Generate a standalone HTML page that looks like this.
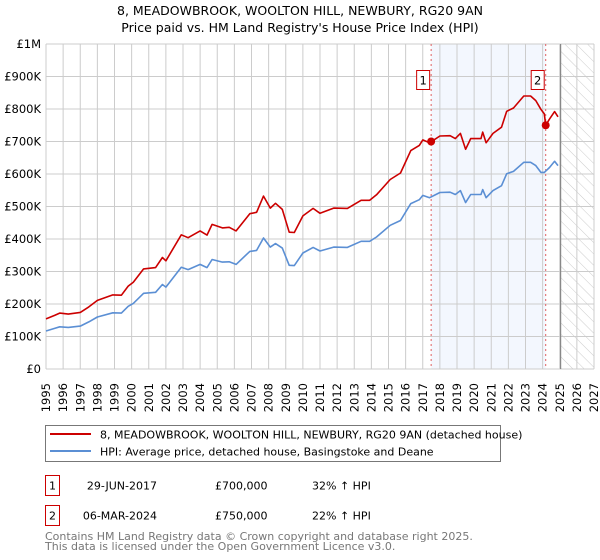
<!DOCTYPE html>
<html><head><meta charset="utf-8"><style>
body{margin:0;background:#fff;}
svg{display:block;font-family:"DejaVu Sans","Liberation Sans",sans-serif;}
</style></head><body>
<svg id="chart" width="600" height="560" viewBox="0 0 600 560">
<defs>
<pattern id="hatch" width="8" height="8" patternUnits="userSpaceOnUse" patternTransform="rotate(-45)">
<line x1="0" y1="0" x2="0" y2="8" stroke="#ccc" stroke-width="1"/>
</pattern>
</defs>
<text x="300" y="15" text-anchor="middle" font-size="12.5">8, MEADOWBROOK, WOOLTON HILL, NEWBURY, RG20 9AN</text>
<text x="300" y="32" text-anchor="middle" font-size="12.5">Price paid vs. HM Land Registry's House Price Index (HPI)</text>
<g id="bg"></g><g id="grid"></g><g id="series"></g><g id="axes"></g>
<g>
<rect x="45.5" y="425.5" width="455" height="36" fill="#fff" stroke="#777"/>
<line x1="50" y1="434" x2="91" y2="434" stroke="#cc0000" stroke-width="2"/>
<text x="100" y="438.5" font-size="11">8, MEADOWBROOK, WOOLTON HILL, NEWBURY, RG20 9AN (detached house)</text>
<line x1="50" y1="451" x2="91" y2="451" stroke="#5b8fd4" stroke-width="2"/>
<text x="100" y="455.5" font-size="11">HPI: Average price, detached house, Basingstoke and Deane</text>
</g>
<g font-size="11">
<rect x="45.5" y="475.5" width="14" height="20" fill="#fff" stroke="#cc0000"/>
<text x="52.5" y="489.5" text-anchor="middle">1</text>
<text x="157" y="489.5" text-anchor="end">29-JUN-2017</text>
<text x="215" y="489.5">£700,000</text>
<text x="312" y="489.5">32% ↑ HPI</text>
<rect x="45.5" y="505.5" width="14" height="20" fill="#fff" stroke="#cc0000"/>
<text x="52.5" y="519.5" text-anchor="middle">2</text>
<text x="157" y="519.5" text-anchor="end">06-MAR-2024</text>
<text x="215" y="519.5">£750,000</text>
<text x="312" y="519.5">22% ↑ HPI</text>
</g>
<text x="45" y="540" font-size="11" fill="#777">Contains HM Land Registry data © Crown copyright and database right 2025.</text>
<text x="45" y="550" font-size="11" fill="#777">This data is licensed under the Open Government Licence v3.0.</text>
</svg>
<script>
const hpiYears=[1995.0,1995.5,1995.8,1996.3,1997.0,1997.5,1998.0,1998.9,1999.4,1999.8,2000.1,2000.7,2001.4,2001.8,2002.0,2002.9,2003.3,2004.0,2004.4,2004.7,2005.3,2005.7,2006.1,2006.9,2007.3,2007.7,2008.1,2008.4,2008.8,2009.2,2009.5,2010.0,2010.6,2011.0,2011.8,2012.6,2013.4,2013.9,2014.3,2015.1,2015.7,2016.3,2016.8,2017.0,2017.4,2018.0,2018.6,2018.9,2019.2,2019.5,2019.8,2020.4,2020.5,2020.7,2021.1,2021.6,2021.9,2022.3,2022.9,2023.3,2023.6,2023.9,2024.1,2024.4,2024.7,2024.9];
const hpiValues=[117,125,130,128,132,145,160,173,172,193,202,233,236,260,252,313,306,322,312,337,329,330,322,362,365,403,375,386,372,319,318,357,374,363,375,374,393,393,406,442,457,509,521,534,527,543,544,537,549,512,537,537,552,527,549,564,601,608,636,636,626,605,605,620,639,626];
const priceYears=[1995.0,1995.5,1995.8,1996.3,1997.0,1997.5,1998.0,1998.9,1999.4,1999.8,2000.1,2000.7,2001.4,2001.8,2002.0,2002.9,2003.3,2004.0,2004.4,2004.7,2005.3,2005.7,2006.1,2006.9,2007.3,2007.7,2008.1,2008.4,2008.8,2009.2,2009.5,2010.0,2010.6,2011.0,2011.8,2012.6,2013.4,2013.9,2014.3,2015.1,2015.7,2016.3,2016.8,2017.0,2017.4,2018.0,2018.6,2018.9,2019.2,2019.5,2019.8,2020.4,2020.5,2020.7,2021.1,2021.6,2021.9,2022.3,2022.9,2023.3,2023.6,2023.9,2024.1,2024.18,2024.4,2024.7,2024.9];
const priceValues=[154,165,172,169,174,191,211,228,227,255,267,308,312,343,333,413,404,425,412,445,434,436,425,478,482,532,495,510,491,421,420,471,494,479,495,494,519,519,536,583,603,672,688,705,696,717,718,709,725,676,709,709,729,696,725,744,793,803,840,840,826,799,785,750,769,792,776];
const saleYears=[2017.49,2024.18];
const saleValues=[700,750];
const saleLabels=["1","2"];
const yTicks=[0,100,200,300,400,500,600,700,800,900,1000];
const yTickLabels=["£0","£100K","£200K","£300K","£400K","£500K","£600K","£700K","£800K","£900K","£1M"];
const xTicks=[1995,1996,1997,1998,1999,2000,2001,2002,2003,2004,2005,2006,2007,2008,2009,2010,2011,2012,2013,2014,2015,2016,2017,2018,2019,2020,2021,2022,2023,2024,2025,2026,2027];
const dataEndYear=2025.05;

const X0=46,X1=594,Y0=369,Y1=44;
const xs=v=>X0+(v-1995)/(2027-1995)*(X1-X0);
const ys=v=>Y0-v/1000*(Y0-Y1);
const NS="http://www.w3.org/2000/svg";
function mk(tag,attrs,parent){const e=document.createElementNS(NS,tag);for(const k in attrs)e.setAttribute(k,attrs[k]);parent.appendChild(e);return e;}
const bg=document.getElementById('bg'),grid=document.getElementById('grid'),ser=document.getElementById('series'),axes=document.getElementById('axes');

let r=mk('rect',{x:xs(saleYears[0]),y:Y1,width:xs(saleYears[1])-xs(saleYears[0]),height:Y0-Y1,fill:'#eef3fd',opacity:0.7},bg);


r=mk('rect',{x:xs(dataEndYear),y:Y1,width:X1-xs(dataEndYear),height:Y0-Y1,fill:'url(#hatch)'},bg);



yTicks.forEach((t,i)=>{
 const l=mk('line',{x1:X0,x2:X1,y1:ys(t),y2:ys(t),stroke:'#ccc','stroke-width':1},grid);
 
 
 const tx=mk('text',{x:X0-5,y:ys(t)+4,'text-anchor':'end','font-size':11.5},axes);
 tx.textContent=yTickLabels[i];
 
 
});
xTicks.forEach(t=>{
 const l=mk('line',{x1:xs(t),x2:xs(t),y1:Y1,y2:Y0,stroke:'#ccc','stroke-width':1},grid);
 
 
 const px=xs(t)+4, py=383;
 const tx=mk('text',{x:px,y:py,'text-anchor':'end','font-size':11.5,transform:`rotate(-90 ${px} ${py})`},axes);
 tx.textContent=t;
 
 
});
let el=mk('line',{x1:xs(dataEndYear),x2:xs(dataEndYear),y1:Y1,y2:Y0,stroke:'#888','stroke-width':1.2},grid);



saleYears.forEach((s,i)=>{
 const l=mk('line',{x1:xs(s),x2:xs(s),y1:Y1,y2:Y0,stroke:'#e06060','stroke-width':1,'stroke-dasharray':'2,3'},ser);
 
 
});

function path(xa,va,color,name){
 const d=xa.map((x,i)=>(i?'L':'M')+xs(x).toFixed(1)+','+ys(va[i]).toFixed(1)).join('');
 const p=mk('path',{d:d,fill:'none',stroke:color,'stroke-width':1.6,'stroke-linejoin':'round'},ser);
 
 
}
path(hpiYears,hpiValues,'#5b8fd4','hpi-line');
path(priceYears,priceValues,'#cc0000','price-line');

saleYears.forEach((s,i)=>{
 const c=mk('circle',{cx:xs(s),cy:ys(saleValues[i]),r:4,fill:'#cc0000'},ser);
 
 
 const b=mk('rect',{x:xs(s)-14.5,y:70.5,width:13,height:19,fill:'#fff',stroke:'#cc0000'},ser);
 
 
 const t=mk('text',{x:xs(s)-8,y:84.5,'text-anchor':'middle','font-size':11.5},ser);
 t.textContent=saleLabels[i];
 
 
});
</script>
</body></html>
